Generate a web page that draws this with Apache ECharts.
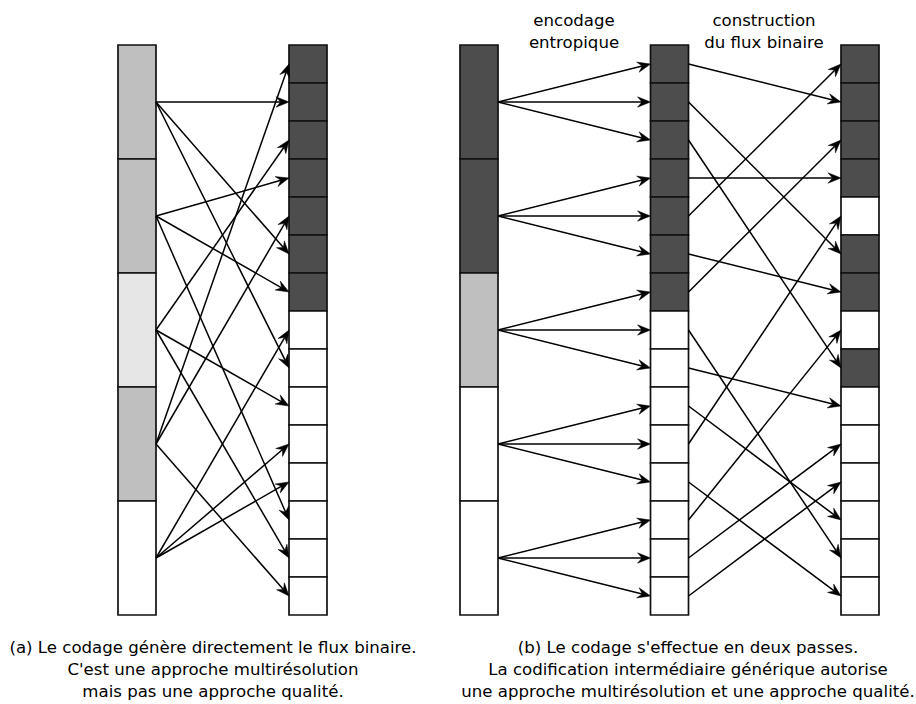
<!DOCTYPE html>
<html>
<head>
<meta charset="utf-8">
<script src="https://cdn.jsdelivr.net/npm/echarts@6/dist/echarts.min.js"></script>
<style>html,body{margin:0;padding:0;background:#fff}#c{width:916px;height:704px}</style>
</head>
<body>
<div id="c"></div>
<script>
// ---------- data ----------
const stageTitles = ['encodage\nentropique', 'construction\ndu flux binaire'];
const captionA = ['(a) Le codage génère directement le flux binaire.', "C'est une approche multirésolution", 'mais pas une approche qualité.'];
const captionB = ["(b) Le codage s'effectue en deux passes.", 'La codification intermédiaire générique autorise', 'une approche multirésolution et une approche qualité.'];

// shade level of each coarse block (0 white, 1 pale, 2 grey, 3 dark)
const aSourceLevels = [2, 2, 1, 2, 0];
const aTargetLevels = [3, 3, 3, 3, 3, 3, 3, 0, 0, 0, 0, 0, 0, 0, 0];
// [source block, target cell]
const aLinks = [[0, 1], [0, 5], [0, 8], [1, 3], [1, 6], [1, 12], [2, 2], [2, 9], [2, 13], [3, 0], [3, 4], [3, 14], [4, 7], [4, 10], [4, 11]];

const bSourceLevels = [3, 3, 2, 0, 0];
const bMidLevels = [3, 3, 3, 3, 3, 3, 3, 0, 0, 0, 0, 0, 0, 0, 0];
const bOutLevels = [3, 3, 3, 3, 0, 3, 3, 0, 3, 0, 0, 0, 0, 0, 0];
const bEncodeLinks = [[0, 0], [0, 1], [0, 2], [1, 3], [1, 4], [1, 5], [2, 6], [2, 7], [2, 8], [3, 9], [3, 10], [3, 11], [4, 12], [4, 13], [4, 14]];
const bBuildLinks = [[0, 1], [1, 5], [2, 8], [3, 3], [4, 0], [5, 6], [6, 2], [7, 13], [8, 9], [9, 12], [10, 4], [11, 14], [12, 7], [13, 10], [14, 11]];

// ---------- layout ----------
const SHADES = ['#ffffff', '#e6e6e6', '#bfbfbf', '#4d4d4d'];
const COL_W = 38;
const COLS = { aL: 118, aR: 289, bL: 460, bM: 650.5, bR: 841 };
const BLOCK = 3; // cells per coarse block

const rects = [];
function addColumn(x, levels, span) {
  levels.forEach((lv, i) => rects.push([x, i * span, span, lv]));
}
addColumn(COLS.aL, aSourceLevels, BLOCK);
addColumn(COLS.aR, aTargetLevels, 1);
addColumn(COLS.bL, bSourceLevels, BLOCK);
addColumn(COLS.bM, bMidLevels, 1);
addColumn(COLS.bR, bOutLevels, 1);

const arrows = [];
function addLinks(links, xFrom, spanFrom, xTo) {
  links.forEach(([s, t]) => arrows.push([xFrom + COL_W, s * spanFrom + spanFrom / 2, xTo, t + 0.5]));
}
addLinks(aLinks, COLS.aL, BLOCK, COLS.aR);
addLinks(bEncodeLinks, COLS.bL, BLOCK, COLS.bM);
addLinks(bBuildLinks, COLS.bM, 1, COLS.bR);

const chart = echarts.init(document.getElementById('c'), null, { renderer: 'svg' });
const FONT = 'DejaVu Sans';
function txt(x, y, text) {
  return { type: 'text', x: x, y: y, silent: true,
    style: { text: text, fontSize: 16.6, fontFamily: FONT, fill: '#000', align: 'center', verticalAlign: 'middle', lineHeight: 22 } };
}
const graphics = [
  txt(574, 31, stageTitles[0]),
  txt(764, 31, stageTitles[1]),
  txt(213, 669, captionA.join('\n')),
  txt(688, 669, captionB.join('\n'))
];

chart.setOption({
  animation: false,
  grid: { left: 0, right: 0, top: 45, bottom: 89 },
  xAxis: { type: 'value', min: 0, max: 916, show: false },
  yAxis: { type: 'value', min: 0, max: 15, inverse: true, show: false },
  graphic: graphics,
  series: [
    {
      type: 'custom', coordinateSystem: 'cartesian2d', clip: false, z: 2,
      data: rects,
      renderItem: function (params, api) {
        const p0 = api.coord([api.value(0), api.value(1)]);
        const p1 = api.coord([api.value(0) + COL_W, api.value(1) + api.value(2)]);
        return { type: 'rect',
          shape: { x: p0[0], y: p0[1], width: p1[0] - p0[0], height: p1[1] - p0[1] },
          style: { fill: SHADES[api.value(3)], stroke: '#111', lineWidth: 1.7 } };
      }
    },
    {
      type: 'custom', coordinateSystem: 'cartesian2d', clip: false, z: 3,
      data: arrows,
      renderItem: function (params, api) {
        const a = api.coord([api.value(0), api.value(1)]);
        const b = api.coord([api.value(2), api.value(3)]);
        const dx = b[0] - a[0], dy = b[1] - a[1];
        const len = Math.sqrt(dx * dx + dy * dy);
        const ux = dx / len, uy = dy / len, nx = -uy, ny = ux;
        const L = 13, W = 5.2, N = 8.5;
        const tip = [b[0], b[1]];
        const c1 = [b[0] - ux * L + nx * W, b[1] - uy * L + ny * W];
        const c2 = [b[0] - ux * L - nx * W, b[1] - uy * L - ny * W];
        const notch = [b[0] - ux * N, b[1] - uy * N];
        return { type: 'group', children: [
          { type: 'line', shape: { x1: a[0], y1: a[1], x2: notch[0], y2: notch[1] },
            style: { stroke: '#000', lineWidth: 1.5 } },
          { type: 'polygon', shape: { points: [tip, c1, notch, c2] },
            style: { fill: '#000', stroke: '#000', lineWidth: 0.5 } }
        ] };
      }
    }
  ]
});
</script>
</body>
</html>
